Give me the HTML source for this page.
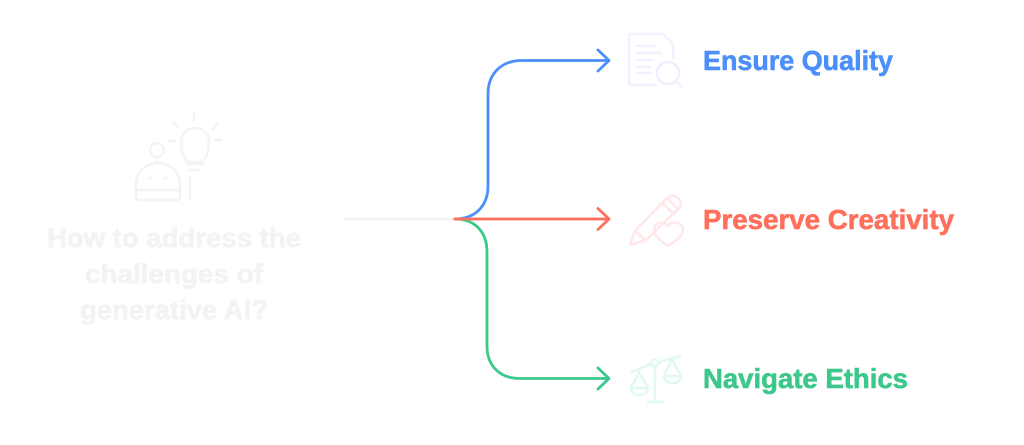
<!DOCTYPE html>
<html>
<head>
<meta charset="utf-8">
<style>
html,body{margin:0;padding:0;background:#fff;width:1024px;height:445px;overflow:hidden}
svg{display:block}
text{font-family:"Liberation Sans",sans-serif;font-weight:700}
</style>
</head>
<body>
<svg width="1024" height="445" viewBox="0 0 1024 445" xmlns="http://www.w3.org/2000/svg">
<rect width="1024" height="445" fill="#fff"/>

<!-- left icon -->
<g fill="none" stroke="#f3f2f5" stroke-width="2.400" stroke-linecap="round" stroke-linejoin="round">
  <circle cx="157" cy="150" r="7"/>
  <path d="M157 157V163"/>
  <path d="M136 190V185C136 172 146 163 158 163C170 163 180 172 180 185V197C180 199 179 200 177 200H139C137 200 136 199 136 197Z"/>
  <path d="M136 190H180"/>
  <path d="M150 178h1M165 178h1" stroke-width="3.500"/>
  <path d="M188 162C184 158 181 153 181 142C181 134 187 128 195 128C203 128 209 134 209 142C209 153 206 158 202 162Z"/>
  <path d="M187 164H203M190 170H199M190 177V198"/>
  <path d="M194 114V121M173 122L178 127M218 123L213 129M169 141H175M215 140H221"/>
</g>
<g fill="#f3f2f5" stroke="#f3f2f5" stroke-width="0.700" font-size="26.500" text-anchor="middle">
  <text x="174" y="247" textLength="254" lengthAdjust="spacingAndGlyphs">How to address the</text>
  <text x="174" y="283" textLength="178" lengthAdjust="spacingAndGlyphs">challenges of</text>
  <text x="174" y="319" textLength="188" lengthAdjust="spacingAndGlyphs">generative AI?</text>
</g>

<!-- connectors -->
<path d="M345 219H455" fill="none" stroke="#f4f2f6" stroke-width="2.600" stroke-linecap="round"/>
<path d="M455 219C475 219 488 206 488 186V94C488 74 501 60.500 522 60.500H609M598 50L609 60.500L598 71" fill="none" stroke="#4b8ffa" stroke-width="2.800" stroke-linecap="round" stroke-linejoin="round"/>
<path d="M455 219C475 219 487 232 487 252V346C487 366 500 378.500 520 378.500H609M598 368L609 378.500L598 389" fill="none" stroke="#3cc88b" stroke-width="2.800" stroke-linecap="round" stroke-linejoin="round"/>
<path d="M455 219H609M598 208.500L609 219L598 229.500" fill="none" stroke="#ff6f5b" stroke-width="2.800" stroke-linecap="round" stroke-linejoin="round"/>

<!-- doc icon -->
<g fill="none" stroke="#edf2fe" stroke-width="2.600" stroke-linecap="round" stroke-linejoin="round">
  <path d="M655 85H631C630 85 629 84 629 83V36C629 35 630 34 631 34H663L673 44V58"/>
  <path d="M637 46H655M637 53H661M637 60H652M637 67H650M637 73H650"/>
  <circle cx="668" cy="73" r="11"/>
  <path d="M676 81L682 87"/>
</g>

<!-- pencil + heart -->
<g fill="none" stroke="#ffe8ea" stroke-width="2.600" stroke-linecap="round" stroke-linejoin="round">
  <path d="M630 245L635 231L666 199C669 196 674 194 678 198C682 202 681 206 678 209L646 240Z"/>
  <path d="M635 231L645 240M662 203L674 214M667 198L678 209"/>
  <path d="M654 230C654 222 664 220 668 226C672 220 683 222 683 230C683 236 675 241 668 246C661 241 654 236 654 230Z"/>
</g>

<!-- scales -->
<g fill="none" stroke="#e2f9f3" stroke-width="2.600" stroke-linecap="round" stroke-linejoin="round">
  <path d="M655 367V401M648 402H663"/>
  <circle cx="655" cy="363" r="3.500"/>
  <path d="M632 372L651 364M659 362L680 356"/>
  <path d="M639 372L631 388H648ZM631 388C631 393 635 395 639.500 395C644 395 648 393 648 388"/>
  <path d="M672 359L664 376H681ZM664 376C664 381 668 383 672.500 383C677 383 681 381 681 376"/>
</g>

<!-- labels -->
<g stroke-width="0.600">
<text x="703" y="70" font-size="28" fill="#4b8ffa" stroke="#4b8ffa" textLength="190" lengthAdjust="spacingAndGlyphs">Ensure Quality</text>
<text x="703" y="229" font-size="28" fill="#ff6f5b" stroke="#ff6f5b" textLength="251" lengthAdjust="spacingAndGlyphs">Preserve Creativity</text>
<text x="703" y="388" font-size="28" fill="#3cc88b" stroke="#3cc88b" textLength="205" lengthAdjust="spacingAndGlyphs">Navigate Ethics</text>
</g>
</svg>
</body>
</html>
